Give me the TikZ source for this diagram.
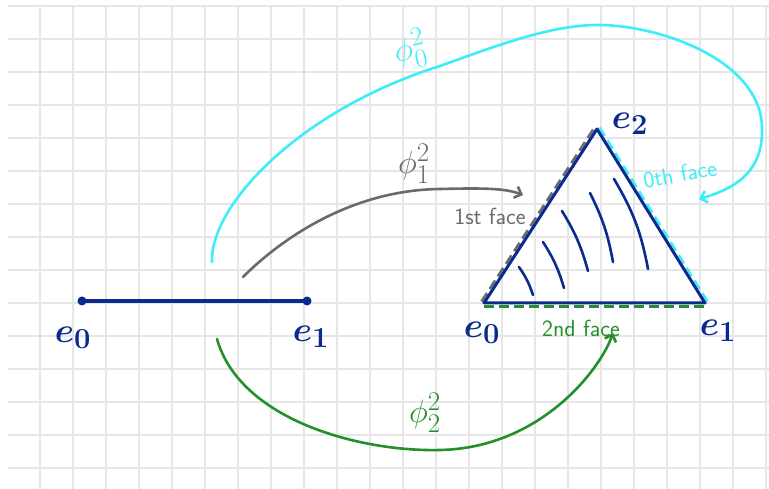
\documentclass[tikz,border=0pt]{standalone}
\usepackage{amsmath,amssymb}
\usepackage{xcolor}
\usepackage{tikz}
\usetikzlibrary{arrows.meta,positioning,calc}
\definecolor{navy}{HTML}{0B2A8F}
\definecolor{aqua}{HTML}{3DEEF8}
\definecolor{pencil}{HTML}{6A6A6A}
\definecolor{leaf}{HTML}{23902B}
\definecolor{paper}{HTML}{E6E6E6}

\begin{document}
\begin{tikzpicture}[
  x=1pt, y=-1pt,
  >={Straight Barb[length=6pt,width=12pt]},
  paperline/.style={draw=paper, line width=1.3pt},
  edge/.style={draw=navy, line width=3pt, line cap=round, line join=round},
  dot/.style={circle, fill=navy, inner sep=0pt, minimum size=9pt},
  hatch/.style={draw=navy, line width=2.6pt, line cap=round},
  vlabel/.style={text=navy, inner sep=0pt, scale=1.4, font=\Huge\boldmath},
  facemap/.style={->, line width=2.6pt, line cap=round},
  maplabel/.style={inner sep=0pt, scale=1.3, font=\Huge},
  facelabel/.style={inner sep=0pt, scale=1.35, font=\sffamily\LARGE},
  facedash/.style={line width=2.6pt, dash pattern=on 10pt off 5pt}
]
\useasboundingbox (0,0) rectangle (769,489);
% squared paper
\fill[white] (0,0) rectangle (769,489);
\foreach \x in {40,73,...,766}
  \draw[paperline] (\x,5) -- (\x,489);
\foreach \y in {6,39,...,468}
  \draw[paperline] (8,\y) -- (769,\y);

% the edge e0 -- e1
\node[dot] (s0) at (82,301) {};
\node[dot] (s1) at (307,301) {};
\draw[edge, line width=3.6pt] (s0) -- (s1);
\node[vlabel] (s0l) at (73,338) {$e_0$};
\node[vlabel] (s1l) at (311,337) {$e_1$};

% the triangle
\coordinate (t0) at (484,303);
\coordinate (t1) at (705,303);
\coordinate (t2) at (597,129);
\draw[facedash, pencil] ($(t0)+(-2.5,-1.5)$) -- ($(t2)+(-2.5,-1.5)$);
\draw[facedash, aqua] ($(t2)+(2.5,-1.5)$) -- ($(t1)+(2.5,-1.5)$);
\draw[facedash, leaf] ($(t0)+(0,3.5)$) -- ($(t1)+(0,3.5)$);
\draw[edge] (t0) -- (t1) -- (t2) -- cycle;
\draw[hatch] (519,267) to[bend left=8] (533,295);
\draw[hatch] (543,242) to[bend left=8] (564,288);
\draw[hatch] (562,211) to[bend left=8] (588,271);
\draw[hatch] (590,193) to[bend left=8] (613,262);
\draw[hatch] (614,179) to[bend left=10] (648,269);
\node[vlabel] (t0l) at (482,333) {$e_0$};
\node[vlabel] (t1l) at (718,331) {$e_1$};
\node[vlabel] (t2l) at (630,124) {$e_2$};

% face maps
\coordinate (c0s) at (212,262);
\coordinate (c0e) at (699,199);
\draw[facemap, aqua] (c0s) .. controls (210,205) and (300,110) .. (440,66)
  .. controls (496,46) and (550,25) .. (598,25)
  .. controls (660,25) and (760,60) .. (762,127)
  .. controls (764,175) and (730,190) .. (c0e);
\node[maplabel, text=aqua, rotate=12] (phi0) at (410,50) {$\phi_0^2$};
\node[facelabel, text=aqua, rotate=10] (face0) at (680,174) {0th face};

\coordinate (c1s) at (243,277);
\coordinate (c1e) at (523,195);
\draw[facemap, pencil] (c1s) .. controls (280,240) and (350,190) .. (440,189)
  .. controls (480,188) and (505,188) .. (c1e);
\node[maplabel, text=pencil] (phi1) at (414,164) {$\phi_1^2$};
\node[facelabel, text=pencil] (face1) at (490,216) {1st face};

\coordinate (c2s) at (217,339);
\coordinate (c2e) at (613,333);
\draw[facemap, leaf] (c2s) .. controls (240,420) and (360,452) .. (440,450)
  .. controls (540,448) and (600,370) .. (c2e);
\node[maplabel, text=leaf] (phi2) at (425,413) {$\phi_2^2$};
\node[facelabel, text=leaf] (face2) at (581,328) {2nd face};
\end{tikzpicture}
\end{document}
